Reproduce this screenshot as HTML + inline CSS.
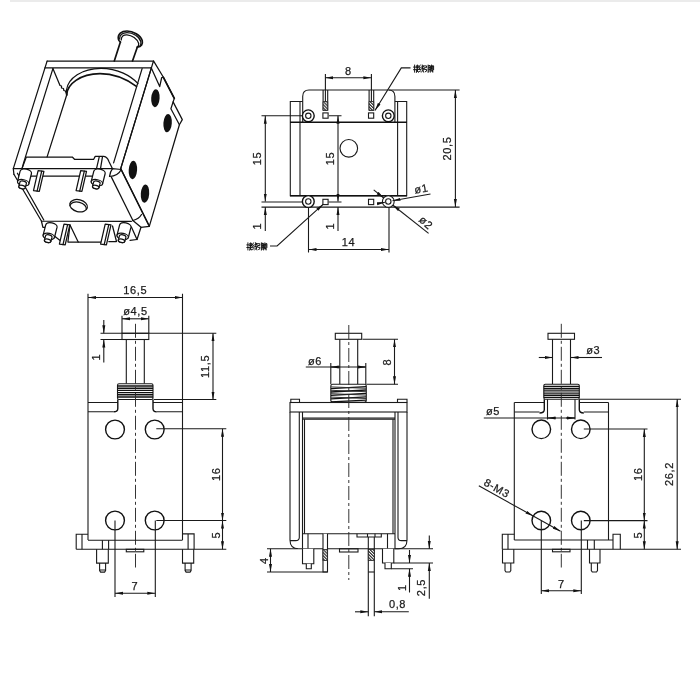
<!DOCTYPE html>
<html>
<head>
<meta charset="utf-8">
<title>Solenoid drawing</title>
<style>
html,body{margin:0;padding:0;background:#fff;}
body{width:700px;height:700px;overflow:hidden;font-family:"Liberation Sans",sans-serif;}
svg{display:block;will-change:transform;}
.l{stroke:#1a1a1a;stroke-width:1.1;fill:none;}
.t{stroke:#2a2a2a;stroke-width:.95;fill:none;}
.k{stroke:#111;stroke-width:1.4;fill:none;}
.w{fill:#fff;}
#iso .l,#so .l,#fp .l{stroke:#111;stroke-width:1.25;}
#iso .k{stroke-width:1.7;}
text{font-family:"Liberation Sans",sans-serif;font-size:11px;fill:#1c1c1c;text-anchor:middle;letter-spacing:.65px;stroke:#1c1c1c;stroke-width:.25px;}
</style>
</head>
<body>
<svg width="700" height="700" viewBox="0 0 700 700">
<defs>
<marker id="a" viewBox="0 0 8 4" refX="8" refY="2" markerWidth="8" markerHeight="4" markerUnits="userSpaceOnUse" orient="auto-start-reverse"><path d="M0,.5 L8,2 L0,3.5z" fill="#111"/></marker>

<g id="so">
<path class="l w" d="M-5.8,0 A5.8,3.2 0 0 1 5.8,0 L5.4,10.6 A5.8,2.9 0 0 1 -6.2,10.6z"/>
<ellipse class="l w" cx="-.4" cy="10.6" rx="5.8" ry="2.9"/>
<path class="l w" d="M-3.7,10.8 L-3.9,15.2 A3.3,1.7 0 0 0 2.7,15.2 L2.9,10.8 A3.3,1.7 0 0 0 -3.7,10.8z"/>
<ellipse class="l w" cx="-.6" cy="15.2" rx="3.3" ry="1.7"/>
</g>
<g id="fp">
<path class="l w" d="M0,0 L5.8,.7 L1.2,20.6 L-4.6,19.9z"/>
<path class="l" d="M3.6,.5 L-1,20.4"/>
</g>
<g id="cj" fill="none" stroke="#111" stroke-width=".95" stroke-linecap="square">
<path d="M1,0 V7 M0,2 H2.2 M0,4.6 H2.2 M2.8,1 H4.8 M3.8,0 V1 M2.8,2.6 H4.8 M3.2,1 L3.5,2.6 M4.5,1 L4.2,2.6 M2.6,4.3 H4.8 M3.8,2.6 L3,7 M3,5.5 L4.8,7 M4.5,4.3 L3,7"/>
<path transform="translate(5.1,0)" d="M1.5,0 L.3,2 L1.6,2.2 L.2,4.5 L2,4.3 M0,6.6 L2,5.8 M2.6,2 L4.8,1.6 M2.6,3.8 L4.8,3.3 M3.5,0 Q3.6,4.5 4.8,7 M4.7,4.5 L2.8,7 M4.3,.3 L4.7,1"/>
<path transform="translate(10.2,0)" d="M.3,.8 H2.7 V2.6 H.5 V4.4 H2.9 Q2.9,7 1.6,6.8 M4.3,0 V7"/>
<path transform="translate(15.1,0)" d="M.3,.5 V5.5 Q.3,6.8 0,7 M.3,.5 H1.6 V7 M.3,2.5 H1.6 M.3,4.3 H1.6 M2.1,1.5 H3.6 M2.85,0 V3 M2,3 H3.7 M2.9,3 L2.2,6 L3.6,5.6 M3.3,4.6 L3.7,6.2 M4.1,.8 H4.9 V4.5 M4.1,.8 V7"/>
</g>
<pattern id="h" width="2.2" height="2.2" patternUnits="userSpaceOnUse" patternTransform="rotate(-45)"><rect width="2.2" height="2.2" fill="#fff"/><rect width="1.2" height="2.2" fill="#333"/></pattern>
</defs>
<rect x="0" y="0" width="700" height="700" fill="#fff"/>
<line x1="10" y1="1" x2="700" y2="1" stroke="#e4e4e4" stroke-width="1.5"/>


<!-- ============ ISOMETRIC VIEW ============ -->
<g id="iso" stroke-linejoin="round" stroke-linecap="round">
<!-- plunger -->
<path class="w" d="M118.4,39.2 C117.5,34 121.5,31 127,31 C133,31 140.5,35 142.2,40.5 C143,44 141.5,46.8 137.3,47.2 L132.5,61 L114.3,61 L120.4,42.1z"/>
<path class="k" d="M120.4,42.1 Q118.8,41.3 118.4,39.2 C117.5,34 121.5,31 127,31 C133,31 140.5,35 142.2,40.5 C143,44 141.5,46.8 137.3,47.2"/>
<path class="l" d="M119.6,39 C119.5,35 122.5,32.6 127,32.6 C133,32.6 139.5,36.5 140.8,41.5 Q141.3,44 140,46"/>
<path class="l" d="M121.2,40 C121.3,36 124,34.6 127,34.8 C132,35.3 137.2,38.5 138.7,43.5 Q139,45.5 137.3,47.2"/>
<path class="k" d="M120.4,42.1 L114.3,61 M137.3,47.2 L132.5,61"/>
<!-- side plate (right face) -->
<path class="l w" d="M153.5,60.9 L163.4,77.3 L174.3,98.4 L173.1,101.9 L182.3,119.6 L179.4,124.7 L149.3,226.4 L120.7,168.6 L151.4,67.9z"/>
<path class="l" d="M151.2,67.8 L159.7,86.6 L161.7,77.5 L163.4,77.3"/>
<path class="k" d="M163.4,77.3 L174.3,98.4"/>
<path class="l" d="M173.1,101.9 L170.9,108.7 L179.4,124.7"/>
<!-- holes -->
<g fill="#111" stroke="none">
<ellipse cx="155.4" cy="98.2" rx="4.2" ry="9" transform="rotate(4 155.4 98.2)"/>
<ellipse cx="167.6" cy="123.1" rx="4.2" ry="9.2" transform="rotate(4 167.6 123.1)"/>
<ellipse cx="132.9" cy="170" rx="4.2" ry="9.2" transform="rotate(4 132.9 170)"/>
<ellipse cx="145" cy="193.6" rx="4.2" ry="9.2" transform="rotate(4 145 193.6)"/>
</g>
<!-- frame front face -->
<path class="l" d="M47.1,61.1 L153.3,61 M44.9,67.9 L151.4,67.9"/>
<path class="l" d="M47.1,61.1 L13.3,168.6 L13.9,174.3"/>
<path class="l" d="M52.9,68.6 L23.6,162.9 L22,168.6"/>
<path class="l" d="M142.1,68.6 L113.6,162.9"/>
<path class="l" d="M151.4,67.9 L120.7,168.6"/>
<!-- back diagonal with zigzag -->
<path class="l" d="M52.9,68.6 L60,85.5 L61.5,86 L61.5,88 L63.5,88.5 L63.8,90.5 L65.5,91 L66.7,95"/>
<!-- coil -->
<path class="l" d="M66.7,95 L47.1,156.9"/>
<path class="l" d="M66.5,90 C68,78 82,68.6 101,68.4 C118,68.4 131,76 138,83.6"/>
<path class="k" d="M66.7,95 C67,84 80,74 100,73.7 C115,73.7 127,79.5 136.4,86.4"/>
<path class="l" d="M66.5,90 L66.7,95"/>
<!-- bobbin lower flange (front) -->
<path class="l" d="M22,168.6 L26.3,157 L72.3,157 L74.5,159.3 L93.7,159.3 L95.2,156.4 L103.8,156.4 Q107.5,157 108.8,161.3 L112.5,168.7"/>
<path class="l" d="M13.3,168.6 L112.5,168.6"/>
<path class="l" d="M29,176 L92,176"/>
<path class="l" d="M99.3,156.6 L96.5,168.6 M102.5,156.6 L100.5,168.6"/>
<!-- fillet at right -->
<path class="l" d="M109.5,176.5 Q118,176 121.3,169.5 L112.5,168.7 Q110,172 109.5,176.5z"/>
<!-- base plate edges -->
<path class="l" d="M13.9,174.3 L41.4,221 L131.4,221.3"/>
<path class="l" d="M17.4,173.2 L43.8,220"/>
<path class="l" d="M111.4,177.1 L132.9,220.5"/>
<path class="l" d="M120.7,168.6 L148.6,224.5"/>
<path class="l" d="M132.9,220.5 Q139,219 141.5,214.5"/>
<path class="l" d="M132.9,220.5 L141,227.3 L149.3,226.4"/>
<path class="l" d="M141,227.3 L137,239.5 L131.4,227"/>
<!-- hole in base -->
<g transform="rotate(14 78.6 205.7)">
<ellipse class="l" cx="78.6" cy="205.7" rx="9" ry="6"/>
<path class="l" d="M70.3,207.5 A8.3,5.3 0 0 1 86.9,207.5"/>
</g>
<!-- lower front flange -->
<path class="l" d="M41.4,221 L42.9,227.3 L47,227.3"/>
<path class="l" d="M70,225 L78.2,242 L103.5,242"/>
<path class="l" d="M55,236.5 L62,242"/>
<path class="l" d="M130,240.3 L137,239.5"/>
<path class="l" d="M112.5,226 L116.5,241.5 L108.8,241.5 M70,225 L67.9,242 L78.2,242"/>

<!-- standoffs + flat pins -->
<use href="#fp" transform="translate(38.1,170.7)"/>
<use href="#fp" transform="translate(80.7,170.7)"/>
<use href="#so" transform="translate(25.8,172.3) rotate(12)"/>
<use href="#so" transform="translate(99.5,172.3) rotate(12)"/>
<use href="#fp" transform="translate(64,224.2)"/>
<use href="#fp" transform="translate(105.2,224.2)"/>
<use href="#so" transform="translate(51.4,226) rotate(12)"/>
<use href="#so" transform="translate(125.3,226) rotate(12)"/>
</g>

<!-- ============ TOP VIEW ============ -->
<g id="topview">
<!-- bracket w/ rounded top -->
<path class="l" d="M302.7,122 V96.4 Q302.7,90 309,90 H388.5 Q394.9,90 394.9,96.4 V122"/>
<!-- outer body -->
<path class="l" d="M302.7,101.5 H290.3 V195.7 H406.7 V101.5 H394.9"/>
<line class="l" x1="300" y1="101.5" x2="300" y2="195.7"/>
<line class="l" x1="397.6" y1="101.5" x2="397.6" y2="195.7"/>
<line class="k" x1="290" y1="122.3" x2="407" y2="122.3"/>
<line class="k" x1="290" y1="195.7" x2="407" y2="195.7"/>
<!-- center hole -->
<circle class="l" cx="348.8" cy="148.3" r="8.8"/>
<!-- extension / baseline lines -->
<path class="l" d="M261.5,115.8 H303 M329,115.8 H341.5 M261.5,202 H303 M328.6,202 H341.5 M261.5,207.1 H459.6 M389,90 H459.6"/>
<!-- corner bosses -->
<g>
<circle cx="308.3" cy="115.8" r="5.9" class="k w"/><circle class="l" cx="308.3" cy="115.8" r="2.7"/>
<circle cx="388.3" cy="115.8" r="5.9" class="k w"/><circle class="l" cx="388.3" cy="115.8" r="2.7"/>
<circle cx="308.3" cy="201.5" r="5.9" class="k w"/><circle class="l" cx="308.3" cy="201.5" r="2.7"/>
<circle cx="388.3" cy="201.5" r="5.9" class="l w"/><circle class="l" cx="388.3" cy="201.5" r="2.7"/>
</g>
<!-- squares -->
<g class="l">
<rect class="l w" x="322.9" y="112.9" width="5.2" height="5.3"/>
<rect class="l w" x="368.5" y="112.9" width="5.2" height="5.3"/>
<rect class="l w" x="322.9" y="199.3" width="5.2" height="5.3"/>
<rect class="l w" x="368.5" y="199.3" width="5.2" height="5.3"/>
</g>
<!-- pins -->
<path class="l" d="M323.1,90 V110.3 H327.7 V90 M369.1,90 V110.3 H373.7 V90"/>
<path d="M323.1,101.5 H327.7 V110.3 H323.1z M369.1,101.5 H373.7 V110.3 H369.1z" fill="url(#h)" stroke="#222" stroke-width=".8"/>
<!-- dim 8 -->
<path class="l" d="M325.4,74 V101.5 M371.4,74 V101.5"/>
<line class="l" x1="325.4" y1="77.7" x2="371.4" y2="77.7" marker-start="url(#a)" marker-end="url(#a)"/>
<text x="348.5" y="74.5">8</text>
<!-- dim 15 left -->
<line class="l" x1="265.3" y1="115.8" x2="265.3" y2="201.6" marker-start="url(#a)" marker-end="url(#a)"/>
<text transform="translate(261,158.5) rotate(-90)">15</text>
<!-- dim 1 left -->
<line class="l" x1="265.3" y1="231" x2="265.3" y2="207" marker-end="url(#a)"/>
<text transform="translate(261,226) rotate(-90)">1</text>
<!-- dim 15 center -->
<line class="l" x1="338" y1="115.8" x2="338" y2="201.6" marker-start="url(#a)" marker-end="url(#a)"/>
<text transform="translate(334,158.5) rotate(-90)">15</text>
<line class="l" x1="338" y1="231" x2="338" y2="207" marker-end="url(#a)"/>
<text transform="translate(334,226) rotate(-90)">1</text>
<!-- dim 20,5 -->
<line class="l" x1="455.4" y1="90" x2="455.4" y2="207" marker-start="url(#a)" marker-end="url(#a)"/>
<text transform="translate(451,148.5) rotate(-90)">20,5</text>
<!-- dim 14 -->
<path class="l" d="M308.5,207 V252.5 M389,207 V252.5"/>
<line class="l" x1="308.5" y1="249.5" x2="389" y2="249.5" marker-start="url(#a)" marker-end="url(#a)"/>
<text x="348.5" y="246">14</text>
<!-- leader top right -->
<path class="l" d="M410.5,67.9 H401.3 L375,110.5" marker-end="url(#a)"/>
<!-- leader bottom left -->
<path class="l" d="M270,246 H277.1 L323.3,204.2" marker-end="url(#a)"/>
<!-- dia 1 / dia 2 leaders -->
<line class="l" x1="430.5" y1="194" x2="392.5" y2="200.8" marker-end="url(#a)"/>
<line class="l" x1="377.5" y1="203.6" x2="384.9" y2="202.3" marker-end="url(#a)"/>
<line class="l" x1="373.7" y1="189.9" x2="383.8" y2="198" marker-end="url(#a)"/>
<line class="l" x1="428.6" y1="233.4" x2="392.7" y2="205" marker-end="url(#a)"/>
<text transform="translate(422,192.5) rotate(-10)">&#248;1</text>
<text transform="translate(423.5,225.5) rotate(42)">&#248;2</text>
<!-- tiny CJK labels drawn as strokes -->
<use href="#cj" transform="translate(413.6,65.1)"/>
<use href="#cj" transform="translate(246.9,242.9)"/>
</g>

<!-- ============ FRONT VIEW (bottom-left) ============ -->
<g id="v1">
<!-- dim 16,5 -->
<path class="l" d="M88,293.8 V540 M182.5,293.8 V540"/>
<line class="l" x1="88" y1="297.5" x2="182.5" y2="297.5" marker-start="url(#a)" marker-end="url(#a)"/>
<text x="135.3" y="294">16,5</text>
<!-- dim d4,5 -->
<path class="l" d="M122,315.8 V333.3 M148.8,315.8 V333.3"/>
<line class="l" x1="122" y1="318.8" x2="148.8" y2="318.8" marker-start="url(#a)" marker-end="url(#a)"/>
<text x="135.5" y="315">&#248;4,5</text>
<!-- plunger -->
<rect class="l" x="122" y="333.3" width="26.8" height="6.2"/>
<path class="l" d="M126.3,339.5 V383.8 M144.3,339.5 V383.8"/>
<!-- spring -->
<g id="spr1">
<rect class="l w" x="117.5" y="383.8" width="35.5" height="15.7" rx="1.5"/>
<path d="M117.5,386 H153 M117.5,388.2 H153 M117.5,390.4 H153 M117.5,392.6 H153 M117.5,394.8 H153 M117.5,397 H153" fill="none" stroke="#111" stroke-width="1.4"/>
</g>
<!-- body top flange + hooks -->
<path class="l" d="M88,402.5 H117.8 M153,402.5 H182.5"/>
<path class="k" d="M117.8,399.5 V408.5 Q117.8,411.8 113.8,411.8 M153,399.5 V408.5 Q153,411.8 156.6,411.8"/>
<path class="l" d="M88,411.8 H113.8 M156.6,411.8 H182.5"/>
<!-- holes -->
<circle class="k" cx="115" cy="429.5" r="9.4"/><circle class="k" cx="154.7" cy="429.5" r="9.4"/>
<circle class="k" cx="115" cy="520.5" r="9.4"/><circle class="k" cx="154.7" cy="520.5" r="9.4"/>
<!-- centerline -->
<line class="t" x1="135.5" y1="323.8" x2="135.5" y2="567.5" stroke-dasharray="14 3 3 3"/>
<!-- base -->
<path class="l" d="M88,540.3 H182.5 M76.2,549.3 H226.3"/>
<path class="l" d="M88,534.2 H76.2 V549.3 M82,534.2 V549.3"/>
<path class="l" d="M182.5,533.9 H194.1 V549.3 M188.1,533.9 V549.3"/>
<path class="l" d="M102.4,540.3 V549.3 M108.6,540.3 V549.3"/>
<path class="l" d="M96.6,549.3 V563.1 H108.3 V549.3 M99.6,563.1 V570.6 L100.6,572.1 H104.6 L105.6,570.6 V563.1 M99.6,570 H105.6"/>
<path class="l" d="M182.5,549.3 V563.1 H193.7 V549.3 M185.1,563.1 V570.6 L186.1,572.1 H190.1 L191.1,570.6 V563.1 M185.1,570 H191.1"/>
<rect class="l" x="126.3" y="549.3" width="17.5" height="2.5"/>
<!-- dim 1 -->
<path class="l" d="M100.5,333.3 H216.3 M100.5,339.5 H122"/>
<path class="l" d="M103.8,320 V333.3" marker-end="url(#a)"/>
<path class="l" d="M103.8,362.5 V339.5" marker-end="url(#a)"/>
<text transform="translate(100,357) rotate(-90)">1</text>
<!-- dim 11,5 -->
<path class="l" d="M153.8,399.5 H216.3"/>
<line class="l" x1="213" y1="333.3" x2="213" y2="399.5" marker-start="url(#a)" marker-end="url(#a)"/>
<text transform="translate(208.8,366.3) rotate(-90)">11,5</text>
<!-- dim 16 / 5 -->
<path class="l" d="M156.3,428.8 H226.3 M156.3,520.5 H226.3"/>
<line class="l" x1="222.5" y1="428.8" x2="222.5" y2="520.5" marker-start="url(#a)" marker-end="url(#a)"/>
<line class="l" x1="222.5" y1="520.5" x2="222.5" y2="549.3" marker-start="url(#a)" marker-end="url(#a)"/>
<text transform="translate(219.5,474.3) rotate(-90)">16</text>
<text transform="translate(219.5,535) rotate(-90)">5</text>
<!-- dim 7 -->
<path class="l" d="M115,520.5 V597 M155.3,520.5 V597"/>
<line class="l" x1="115" y1="593.3" x2="155.3" y2="593.3" marker-start="url(#a)" marker-end="url(#a)"/>
<text x="135" y="590">7</text>
</g>

<!-- ============ SIDE VIEW (bottom-middle) ============ -->
<g id="v2">
<!-- plunger -->
<rect class="l" x="335.3" y="333.3" width="26.4" height="6"/>
<path class="l" d="M339.8,339.3 V384.3 M357.7,339.3 V384.3"/>
<!-- dim d6 -->
<path class="l" d="M330.8,363 V384.3 M365.8,363 V384.3"/>
<path class="l" d="M305.8,367 H365.8"/>
<path class="l" d="M340,367 H330.8" marker-end="url(#a)"/>
<path class="l" d="M358,367 H365.8" marker-end="url(#a)"/>
<text x="315" y="364.5">&#248;6</text>
<!-- dim 8 -->
<path class="l" d="M362.5,339.3 H398 M366.3,384.3 H398"/>
<line class="l" x1="394.5" y1="339.3" x2="394.5" y2="384.3" marker-start="url(#a)" marker-end="url(#a)"/>
<text transform="translate(391.3,362) rotate(-90)">8</text>
<!-- spring (helical look) -->
<g id="spr2">
<rect class="l w" x="330.8" y="384.3" width="35.5" height="17.9" rx="2"/>
<path d="M331,388.6 L366,386.6 M331,392 L366,390 M331,395.4 L366,393.4 M331,398.8 L366,396.8 M331,401.8 L366,400.2" stroke="#111" stroke-width="1.3" fill="none"/>
<path class="t" d="M331,386.9 L366,388.3 M331,390.3 L366,391.7 M331,393.7 L366,395.1 M331,397.1 L366,398.5"/>
</g>
<!-- top plate + tabs -->
<rect class="l" x="290" y="402.5" width="117" height="9.5"/>
<path class="l" d="M290.8,402.5 V399.3 H299.5 V402.5 M397.5,402.5 V399.3 H407 V402.5"/>
<!-- frame legs -->
<path class="l" d="M290,412 V540 Q290,548.8 298.5,548.8 H398.5 Q407,548.8 407,540 V412"/>
<path class="l" d="M299.3,412 V537.5 Q299.3,540.6 295.5,540.6 H290 M398,412 V537.5 Q398,540.6 401.5,540.6 H407"/>
<!-- bobbin -->
<path class="l" d="M302.5,412 V548.8 M395,412 V548.8"/>
<path class="l" d="M302.5,418 H395 M302.5,419.3 H395"/>
<path class="l" d="M304.5,419.3 V533.8 M393,419.3 V533.8"/>
<path class="l" d="M302.5,533.8 H395"/>
<path class="l" d="M308,533.8 V548.8 M387.5,533.8 V548.8"/>
<!-- small block near center top of flange -->
<path class="l" d="M357,533.8 V537 H381.3 V533.8 M367.5,533.8 V537 M375,533.8 V537"/>
<!-- left stub pin -->
<path class="l w" d="M302.5,548.8 V563.8 H313.8 V548.8"/>
<path class="l w" d="M306.3,563.8 V568.8 H311.3 V563.8"/>
<!-- left terminal pin -->
<path class="l w" d="M323,533.8 V572 H327.5 V533.8"/>
<rect x="323" y="549.5" width="4.5" height="11" fill="url(#h)" stroke="#222" stroke-width=".8"/>
<!-- center small rect -->
<rect class="l" x="339.5" y="548.8" width="18.5" height="3.2"/>
<!-- long pin -->
<path class="l w" d="M368.3,537 V616.3 M374.3,537 V616.3"/>
<rect x="368.3" y="549.5" width="6" height="11" fill="url(#h)" stroke="#222" stroke-width=".8"/>
<path class="l" d="M368.3,572 H374.3"/>
<!-- right stub pin -->
<path class="l w" d="M382.5,548.8 V563 H393.8 V548.8"/>
<path class="l w" d="M385,563 V568.8 H391.3 V563"/>
<!-- centerline -->
<line class="t" x1="348.8" y1="325" x2="348.8" y2="580" stroke-dasharray="14 3 3 3"/>
<!-- dim 4 -->
<path class="l" d="M267,548.8 H297.5 M267,572 H327.5"/>
<line class="l" x1="270.5" y1="548.8" x2="270.5" y2="572" marker-start="url(#a)" marker-end="url(#a)"/>
<text transform="translate(268,560.5) rotate(-90)">4</text>
<!-- dim 1, 2,5 -->
<path class="l" d="M395,548.8 H433 M393.8,563 H433 M391.3,568.8 H413"/>
<path class="l" d="M409.5,550 V563" marker-end="url(#a)"/>
<path class="l" d="M409.5,592.5 V568.8" marker-end="url(#a)"/>
<text transform="translate(406,587.5) rotate(-90)">1</text>
<path class="l" d="M429.3,535.5 V548.8" marker-end="url(#a)"/>
<path class="l" d="M429.3,598.8 V563" marker-end="url(#a)"/>
<text transform="translate(425.3,587.5) rotate(-90)">2,5</text>
<!-- dim 0,8 -->
<path class="l" d="M355,611.8 H368.3" marker-end="url(#a)"/>
<path class="l" d="M408.8,611.8 H374.3" marker-end="url(#a)"/>
<text x="397.5" y="608">0,8</text>
</g>

<!-- ============ REAR VIEW (bottom-right) ============ -->
<g id="v3">
<!-- plunger -->
<rect class="l" x="548" y="333.3" width="26.5" height="6"/>
<path class="l" d="M552.5,339.3 V384.3 M570.5,339.3 V384.3"/>
<!-- dim d3 -->
<path class="l" d="M538.8,357.5 H552.5" marker-end="url(#a)"/>
<path class="l" d="M602,357.5 H570.5" marker-end="url(#a)"/>
<text x="593.3" y="354.3">&#248;3</text>
<!-- spring -->
<rect class="l w" x="543.8" y="384.3" width="35.5" height="15" rx="1.5"/>
<path d="M543.8,386.5 H579.3 M543.8,388.7 H579.3 M543.8,390.9 H579.3 M543.8,393.1 H579.3 M543.8,395.3 H579.3 M543.8,397.4 H579.3" stroke="#111" stroke-width="1.4" fill="none"/>
<!-- body -->
<path class="l" d="M514.3,402.5 H544.3 M579.3,402.5 H608.5"/>
<path class="l" d="M514.3,402.5 V540 M608.5,402.5 V540"/>
<path class="k" d="M544.3,399.3 V409.5 Q544.3,413 539.5,413 M579.3,399.3 V409.5 Q579.3,413 583.8,413"/>
<path class="l" d="M514.3,412 H539.5 M583.8,412 H608.5"/>
<path class="l" d="M547.5,399.3 V419.5 M575,399.3 V419.5"/>
<!-- dim d5 -->
<path class="l" d="M483.8,418 H575"/>
<path class="l" d="M556,418 H547.5" marker-end="url(#a)"/>
<path class="l" d="M566,418 H575" marker-end="url(#a)"/>
<text x="493" y="414.5">&#248;5</text>
<!-- holes -->
<circle class="k" cx="541.3" cy="429.3" r="9.3"/><circle class="k" cx="580.8" cy="429.3" r="9.3"/>
<circle class="k" cx="541.3" cy="520.5" r="9.3"/><circle class="k" cx="580.8" cy="520.5" r="9.3"/>
<!-- centerline -->
<line class="t" x1="561.3" y1="323.8" x2="561.3" y2="567.5" stroke-dasharray="14 3 3 3"/>
<!-- base -->
<path class="l" d="M514.3,540 H613 M502.3,549.3 H681"/>
<path class="l" d="M514.3,534.3 H502.3 V549.3 M508,534.3 V549.3"/>
<path class="l" d="M613,549.3 V534.3 H620.3 V549.3"/>
<path class="l" d="M587.5,540 V549.3 M594.3,540 V549.3"/>
<path class="l" d="M502.5,549.3 V563 H513.8 V549.3 M505,563 V570.5 L506,572 H509.8 L510.8,570.5 V563"/>
<path class="l" d="M589.5,549.3 V563 H600 V549.3 M591.3,563 V570.5 L592.3,572 H596.5 L597.5,570.5 V563"/>
<rect class="l" x="552.5" y="549.3" width="17.5" height="2.5"/>
<!-- 8-M3 leader -->
<line class="l" x1="478.8" y1="485.8" x2="533.2" y2="516" marker-end="url(#a)"/>
<line class="l" x1="533.2" y1="516" x2="560.5" y2="531.3" marker-end="url(#a)"/>
<text transform="translate(495,491.5) rotate(29)">8-M3</text>
<!-- dims 16 / 5 / 26,2 -->
<path class="l" d="M579.3,399.3 H681 M583.8,429 H647.5 M583.8,520.6 H647.5"/>
<line class="l" x1="644.3" y1="429" x2="644.3" y2="520.6" marker-start="url(#a)" marker-end="url(#a)"/>
<line class="l" x1="644.3" y1="520.6" x2="644.3" y2="549.3" marker-start="url(#a)" marker-end="url(#a)"/>
<text transform="translate(641.5,474.3) rotate(-90)">16</text>
<text transform="translate(641.5,535) rotate(-90)">5</text>
<line class="l" x1="677.2" y1="399.3" x2="677.2" y2="549.3" marker-start="url(#a)" marker-end="url(#a)"/>
<text transform="translate(673.2,474) rotate(-90)">26,2</text>
<!-- dim 7 -->
<path class="l" d="M541.3,520.5 V594 M581.3,520.5 V594"/>
<line class="l" x1="541.3" y1="590.8" x2="581.3" y2="590.8" marker-start="url(#a)" marker-end="url(#a)"/>
<text x="561.3" y="587.5">7</text>
</g>
</svg>
</body>
</html>
